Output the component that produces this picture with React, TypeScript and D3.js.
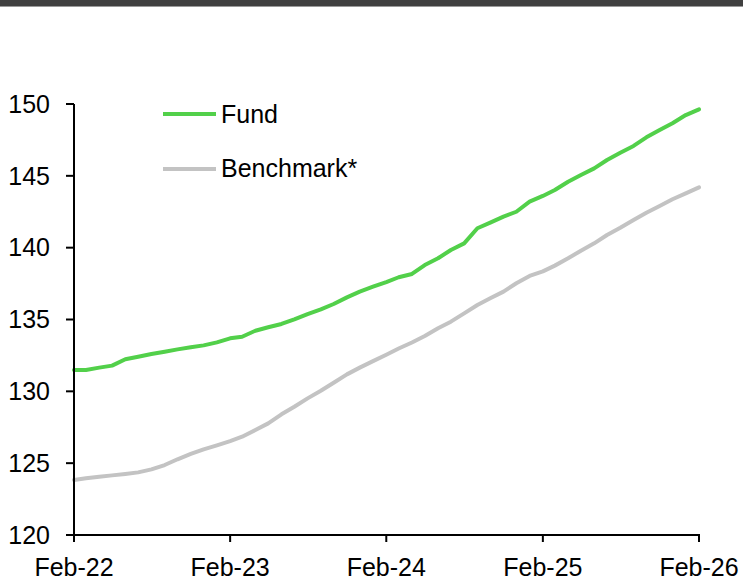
import React from 'react';
import { scaleLinear, scaleTime, line, timeMonth, timeFormat } from 'd3';

// monthly values, Feb-22 .. Feb-26
const startMonth = new Date(2022, 1, 1);
const fundValues = [
	131.49, 131.49, 131.65, 131.79, 132.23, 132.41, 132.60, 132.76, 132.92, 133.07, 133.20, 133.41,
	133.69, 133.80, 134.22, 134.46, 134.69, 135.01, 135.38, 135.71, 136.08, 136.54, 136.94, 137.28,
	137.60, 137.94, 138.17, 138.79, 139.26, 139.84, 140.30, 141.35, 141.74, 142.16, 142.50, 143.20,
	143.60, 144.01, 144.59, 145.06, 145.52, 146.10, 146.61, 147.08, 147.68, 148.19, 148.66, 149.23,
	149.63
];
const benchmarkValues = [
	123.83, 123.95, 124.06, 124.15, 124.25, 124.36, 124.57, 124.87, 125.27, 125.64, 125.96, 126.24,
	126.53, 126.84, 127.31, 127.77, 128.40, 128.93, 129.51, 130.04, 130.60, 131.18, 131.65, 132.10,
	132.55, 132.98, 133.40, 133.85, 134.39, 134.85, 135.43, 136.01, 136.48, 136.94, 137.52, 138.03,
	138.35, 138.75, 139.26, 139.79, 140.30, 140.88, 141.39, 141.93, 142.43, 142.90, 143.37, 143.78,
	144.20
];
const yTicks = [120, 125, 130, 135, 140, 145, 150];
const xTickDates = [
	new Date(2022, 1, 1), new Date(2023, 1, 1), new Date(2024, 1, 1), new Date(2025, 1, 1), new Date(2026, 1, 1)
];
const seriesNames = ['Fund', 'Benchmark*'];
const seriesColors = ['#52d04a', '#c3c3c3'];

const FONT = '"Liberation Sans", Arial, sans-serif';

export default function App() {
	const width = 743;
	const height = 581;
	const margin = { left: 74, right: 44, top: 104, bottom: 46 };

	const xScale = scaleTime()
		.domain([xTickDates[0], xTickDates[xTickDates.length - 1]])
		.range([margin.left, width - margin.right]);
	const yScale = scaleLinear()
		.domain([120, 150])
		.range([height - margin.bottom, margin.top]);

	const toPoints = (vals: number[]) =>
		vals.map((v, i) => ({ x: timeMonth.offset(startMonth, i), y: v }));

	const lineFn = line<{ x: Date; y: number }>()
		.x((d) => xScale(d.x))
		.y((d) => yScale(d.y));

	const fmt = timeFormat('%b-%y');
	const y0 = yScale(120);

	return (
		<svg width={width} height={height} style={{ position: 'absolute', left: 0, top: 0 }} fontFamily={FONT}>
			<rect x={0} y={0} width={width} height={6} fill="#404040" />
			<rect x={0} y={6} width={width} height={1} fill="#9a9a9a" />

			{/* lines */}
			{[benchmarkValues, fundValues].map((vals, i) => (
				<path key={i} d={lineFn(toPoints(vals)) || ''} fill="none"
					stroke={i === 0 ? seriesColors[1] : seriesColors[0]}
					strokeWidth={4} strokeLinejoin="round" strokeLinecap="round" />
			))}

			{/* y axis */}
			<line x1={margin.left} x2={margin.left} y1={yScale(150)} y2={y0} stroke="#000" strokeWidth={2} />
			{yTicks.map((t) => (
				<g key={t}>
					<line x1={margin.left - 8} x2={margin.left} y1={yScale(t)} y2={yScale(t)} stroke="#000" strokeWidth={2} />
					<text x={50} y={yScale(t)} dy="0.35em" textAnchor="end" fontSize={25} fill="#000">{t}</text>
				</g>
			))}

			{/* x axis */}
			<line x1={margin.left - 8} x2={xScale(xTickDates[4]) + 1} y1={y0} y2={y0} stroke="#000" strokeWidth={2} />
			{xTickDates.map((d, i) => (
				<g key={i}>
					<line x1={xScale(d)} x2={xScale(d)} y1={y0} y2={y0 + 7} stroke="#000" strokeWidth={2} />
					<text x={xScale(d)} y={576} textAnchor="middle" fontSize={25} fill="#000">{fmt(d)}</text>
				</g>
			))}

			{/* legend */}
			{seriesNames.map((name, i) => (
				<g key={name}>
					<line x1={163} x2={216} y1={114 + i * 55} y2={114 + i * 55} stroke={seriesColors[i]} strokeWidth={4} />
					<text x={221} y={123 + i * 54} fontSize={25} fill="#000">{name}</text>
				</g>
			))}
		</svg>
	);
}
